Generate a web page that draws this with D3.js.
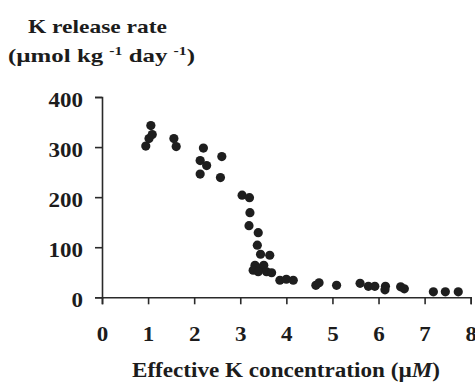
<!DOCTYPE html>
<html>
<head>
<meta charset="utf-8">
<script src="https://cdn.jsdelivr.net/npm/d3@7"></script>
<style>
  html, body { margin: 0; padding: 0; background: #fff; }
  svg { display: block; }
  text { font-family: "Liberation Serif", "Times New Roman", serif; font-weight: bold; fill: #1c1c1c; }
</style>
</head>
<body>
<svg id="chart" width="475" height="386"></svg>
<script>
const concentration = [0.95,1.02,1.06,1.09,1.56,1.61,2.13,2.13,2.2,2.27,2.57,2.6,3.04,3.2,3.21,3.19,3.39,3.37,3.44,3.64,3.32,3.28,3.43,3.51,3.57,3.68,3.39,3.86,4.0,4.15,4.64,4.71,5.09,5.6,5.78,5.92,6.15,6.14,6.48,6.56,7.19,7.45,7.73];
const releaseRate = [302,317,343,325,317,301,273,246,298,263,239,281,204,199,169,143,129,104,86,84,64,54,58,64,51,49,51,34,36,34,24,29,24,28,22,22,22,15,21,17,11,11,11];
const xTicks = [0,1,2,3,4,5,6,7,8];
const yTicks = [0,100,200,300,400];

const svg = d3.select("#chart");
const x = d3.scaleLinear().domain([0, 8]).range([102, 470.7]);
const y = d3.scaleLinear().domain([0, 400]).range([297.3, 97]);
const stroke = "#2a2a2a";

// X axis
const gx = svg.append("g")
  .attr("transform", `translate(0,${y(0)})`)
  .call(d3.axisBottom(x).tickValues(xTicks).tickFormat(d3.format("d")).tickSize(7).tickSizeOuter(7));
gx.select(".domain").attr("stroke", stroke).attr("stroke-width", 1.6);
gx.selectAll(".tick line").attr("stroke", stroke).attr("stroke-width", 1.6);
gx.selectAll(".tick text")
  .attr("y", 30).attr("dy", "0.71em")
  .attr("transform", "scale(1.15,1)")
  .style("font-size", "20px").style("font-family", "Liberation Serif").style("font-weight", "bold").attr("fill", "#1c1c1c");

// Y axis
const gy = svg.append("g")
  .attr("transform", `translate(${x(0)},0)`)
  .call(d3.axisLeft(y).tickValues(yTicks).tickFormat(d3.format("d")).tickSize(7).tickSizeOuter(7));
gy.select(".domain").attr("stroke", stroke).attr("stroke-width", 1.6);
gy.selectAll(".tick line").attr("stroke", stroke).attr("stroke-width", 1.6);
gy.selectAll(".tick text")
  .attr("x", -16.5).attr("dy", "0.45em")
  .attr("transform", "scale(1.15,1)")
  .style("font-size", "20px").style("font-family", "Liberation Serif").style("font-weight", "bold").attr("fill", "#1c1c1c");

// Points
svg.append("g").selectAll("circle")
  .data(concentration.map((c, i) => [c, releaseRate[i]]))
  .join("circle")
  .attr("cx", d => x(d[0]))
  .attr("cy", d => y(d[1]))
  .attr("r", 4.6)
  .attr("fill", "#1e1e1e");

// Y axis title (two lines)
svg.append("text")
  .attr("x", 28).attr("y", 33)
  .attr("textLength", 139).attr("lengthAdjust", "spacingAndGlyphs")
  .style("font-size", "19px")
  .text("K release rate");

const t2 = svg.append("text")
  .attr("x", 8).attr("y", 62)
  .attr("textLength", 187).attr("lengthAdjust", "spacingAndGlyphs")
  .style("font-size", "19px");
t2.append("tspan").text("(\u00B5mol kg ");
t2.append("tspan").attr("dy", -7).style("font-size", "12px").text("-1");
t2.append("tspan").attr("dy", 7).text(" day ");
t2.append("tspan").attr("dy", -7).style("font-size", "12px").text("-1");
t2.append("tspan").attr("dy", 7).text(")");

// X axis title
const t3 = svg.append("text")
  .attr("x", 132).attr("y", 377)
  .attr("textLength", 308).attr("lengthAdjust", "spacingAndGlyphs")
  .style("font-size", "20px");
t3.append("tspan").text("Effective K concentration (\u00B5");
t3.append("tspan").style("font-style", "italic").text("M");
t3.append("tspan").text(")");
</script>
</body>
</html>
